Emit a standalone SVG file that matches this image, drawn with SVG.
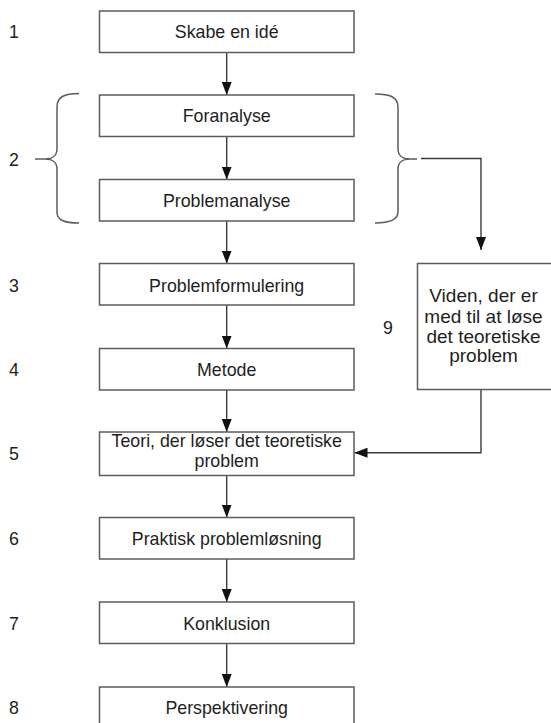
<svg xmlns="http://www.w3.org/2000/svg" width="551" height="723" viewBox="0 0 551 723">
  <style>
    .box { fill: #ffffff; stroke: #5c5c5c; stroke-width: 1.5; }
    .lbl { font-family: "Liberation Sans", Arial, sans-serif; font-size: 17.8px; fill: #1e1e1e; text-anchor: middle; }
    .lbl9 { font-family: "Liberation Sans", Arial, sans-serif; font-size: 19px; fill: #1e1e1e; text-anchor: middle; }
    .num { font-family: "Liberation Sans", Arial, sans-serif; font-size: 17.8px; fill: #1e1e1e; }
    .edge { fill: none; stroke: #3c3c3c; stroke-width: 1.4; }
    .brace { fill: none; stroke: #5c5c5c; stroke-width: 1.5; }
  </style>
  <defs>
    <marker id="arrow" viewBox="0 0 13 10" refX="13" refY="5" markerWidth="13" markerHeight="10" markerUnits="userSpaceOnUse" orient="auto">
      <path d="M0,0 L13,5 L0,10 Z" fill="#111111"/>
    </marker>
  </defs>

  <rect width="551" height="723" fill="#ffffff"/>

  <!-- step numbers -->
  <g id="numbers">
    <text class="num" x="9" y="38">1</text>
    <text class="num" x="9" y="166">2</text>
    <text class="num" x="9" y="291.5">3</text>
    <text class="num" x="9" y="376">4</text>
    <text class="num" x="9" y="460">5</text>
    <text class="num" x="9" y="545">6</text>
    <text class="num" x="9" y="629.5">7</text>
    <text class="num" x="9" y="714">8</text>
    <text class="num" x="383" y="334">9</text>
  </g>

  <!-- braces around the analysis phase -->
  <g id="brace-left">
    <path class="brace" d="M79,93.5 C64,93.5 57,97 57,107 L57,149 C57,155.5 52,159 45,159 L35,159 M45,159 C52,159 57,162.5 57,169 L57,212 C57,220 64,223 79,223"/>
  </g>
  <g id="brace-right">
    <path class="brace" d="M375,94 C390,94 398,97 398,107 L398,149 C398,155.5 403,159 410,159 L417,159 M410,159 C403,159 398,162.5 398,169 L398,212 C398,220 390,223 375,223"/>
  </g>

  <!-- connectors -->
  <g id="connectors">
    <path class="edge" d="M226.7,52.5 V95" marker-end="url(#arrow)"/>
    <path class="edge" d="M226.7,136.5 V179.5" marker-end="url(#arrow)"/>
    <path class="edge" d="M226.7,221 V263.5" marker-end="url(#arrow)"/>
    <path class="edge" d="M226.7,305 V348.5" marker-end="url(#arrow)"/>
    <path class="edge" d="M226.7,390 V432" marker-end="url(#arrow)"/>
    <path class="edge" d="M226.7,475.5 V517.5" marker-end="url(#arrow)"/>
    <path class="edge" d="M226.7,559 V602" marker-end="url(#arrow)"/>
    <path class="edge" d="M226.7,643.5 V687" marker-end="url(#arrow)"/>
    <path class="edge" d="M421,158.5 H481 V250" marker-end="url(#arrow)"/>
    <path class="edge" d="M481,389.5 V452.7 H354.5" marker-end="url(#arrow)"/>
  </g>

  <!-- process steps -->
  <g id="step1">
    <rect class="box" x="99.5" y="11" width="254.5" height="41.5"/>
    <text class="lbl" x="226.7" y="38">Skabe en idé</text>
  </g>
  <g id="step2a">
    <rect class="box" x="99.5" y="95" width="254.5" height="41.5"/>
    <text class="lbl" x="226.7" y="122">Foranalyse</text>
  </g>
  <g id="step2b">
    <rect class="box" x="99.5" y="179.5" width="254.5" height="41.5"/>
    <text class="lbl" x="226.7" y="206.5">Problemanalyse</text>
  </g>
  <g id="step3">
    <rect class="box" x="99.5" y="263.5" width="254.5" height="41.5"/>
    <text class="lbl" x="226.7" y="291.5">Problemformulering</text>
  </g>
  <g id="step4">
    <rect class="box" x="99.5" y="348.5" width="254.5" height="41.5"/>
    <text class="lbl" x="226.7" y="376">Metode</text>
  </g>
  <g id="step5">
    <rect class="box" x="99.5" y="432" width="254.5" height="43.5"/>
    <text class="lbl" x="226.7" y="447.3">Teori, der løser det teoretiske</text>
    <text class="lbl" x="226.7" y="466.8">problem</text>
  </g>
  <g id="step6">
    <rect class="box" x="99.5" y="517.5" width="254.5" height="41.5"/>
    <text class="lbl" x="226.7" y="545">Praktisk problemløsning</text>
  </g>
  <g id="step7">
    <rect class="box" x="99.5" y="602" width="254.5" height="41.5"/>
    <text class="lbl" x="226.7" y="629.5">Konklusion</text>
  </g>
  <g id="step8">
    <rect class="box" x="99.5" y="687" width="254.5" height="41.5"/>
    <text class="lbl" x="226.7" y="714">Perspektivering</text>
  </g>
  <g id="step9">
    <rect class="box" x="417.5" y="263.5" width="150" height="126"/>
    <text class="lbl9" x="483.5" y="302.3">Viden, der er</text>
    <text class="lbl9" x="483.5" y="322.5">med til at løse</text>
    <text class="lbl9" x="483.5" y="342.5">det teoretiske</text>
    <text class="lbl9" x="483.5" y="362.3">problem</text>
  </g>
</svg>
